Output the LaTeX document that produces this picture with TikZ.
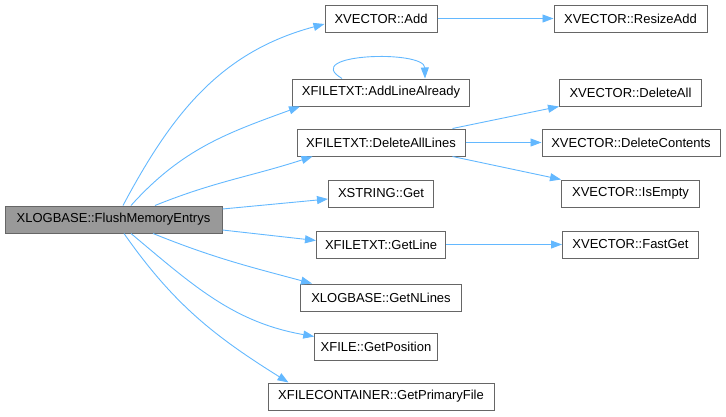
\documentclass[tikz,border=0pt]{standalone}
\usepackage{fontspec}
\setmainfont{Liberation Sans}
\usepackage{tikz}
\usetikzlibrary{arrows.meta,positioning}
\definecolor{edgeblue}{HTML}{63B8FF}
\definecolor{boxgray}{HTML}{666666}
\definecolor{rootgray}{HTML}{999999}
\tikzstyle{func} = [rectangle, draw=boxgray, line width=1pt, fill=white, text=black, font=\fontsize{13}{15}\selectfont, minimum height=27pt, inner xsep=6pt, inner ysep=0pt]
\tikzstyle{root} = [func, fill=rootgray]
\tikzstyle{tedge}  = [draw=edgeblue, line width=0.9pt, >={Triangle[length=11pt,width=8pt]}, ->]

\begin{document}
\begin{tikzpicture}[x=1pt, y=1pt]
\useasboundingbox (0,0) rectangle (726,-416);

% caller =============================
\node[root, minimum width=217pt] (flush) at (113.5,-219.5) {XLOGBASE::FlushMemoryEntrys};

% callees, first column
\node[func, minimum width=112pt] (add) at (381,-18.5) {XVECTOR::Add};
\node[func, minimum width=177pt, below=46pt of add] (addline) {XFILETXT::AddLineAlready};
\node[func, minimum width=168pt, below=22pt of addline] (delall) {XFILETXT::DeleteAllLines};
\node[func, minimum width=105pt, below=23pt of delall] (get) {XSTRING::Get};
\node[func, minimum width=129pt, below=23pt of get] (getline) {XFILETXT::GetLine};
\node[func, minimum width=161pt, below=25pt of getline] (nlines) {XLOGBASE::GetNLines};
\node[func, minimum width=120pt, below=21pt of nlines, xshift=-5pt] (getpos) {XFILE::GetPosition};
\node[func, minimum width=226pt, below=22pt of getpos, xshift=5pt] (primary) {XFILECONTAINER::GetPrimaryFile};

% callees, second column
\node[func, minimum width=153pt, right=116pt of add] (resize) {XVECTOR::ResizeAdd};
\node[func, minimum width=142pt, right=89pt of addline] (deleteall) {XVECTOR::DeleteAll};
\node[func, minimum width=178pt, right=76pt of delall] (delcont) {XVECTOR::DeleteContents};
\node[func, minimum width=138pt, right=127pt of get] (isempty) {XVECTOR::IsEmpty};
\node[func, minimum width=136pt, right=116pt of getline] (fastget) {XVECTOR::FastGet};

%edges
\path[tedge] ([xshift=9.5pt]flush.north) to[out=62, in=195] ([yshift=-5.5pt]add.west);
\path[tedge] ([xshift=17.5pt]flush.north) to[out=48, in=200] ([xshift=8pt]addline.south west);
\path[tedge] ([xshift=41.5pt]flush.north) to[out=22, in=198] ([xshift=16pt]delall.south west);
\path[tedge] ([yshift=10.5pt]flush.east) -- ([yshift=-5.5pt]get.west);
\path[tedge] ([yshift=-10.5pt]flush.east) -- ([yshift=4pt]getline.west);
\path[tedge] ([xshift=39.5pt]flush.south) to[out=-22, in=165] ([xshift=12pt]nlines.north west);
\path[tedge] ([xshift=17.5pt]flush.south) to[out=-40, in=170] ([yshift=10pt]getpos.west);
\path[tedge] ([xshift=10.5pt]flush.south) to[out=-55, in=148] ([xshift=21pt]primary.north west);

\path[tedge] ([xshift=-39pt]addline.north) .. controls ([xshift=-81.5pt,yshift=25pt]addline.north) and ([xshift=43.5pt,yshift=29pt]addline.north) .. ([xshift=44pt]addline.north);

\path[tedge] (add) -- (resize);
\path[tedge] ([xshift=-13pt]delall.north east) -- (deleteall.south west);
\path[tedge] (delall) -- (delcont);
\path[tedge] ([xshift=-13pt]delall.south east) -- (isempty.north west);
\path[tedge] (getline) -- (fastget);

\end{tikzpicture}
\end{document}
